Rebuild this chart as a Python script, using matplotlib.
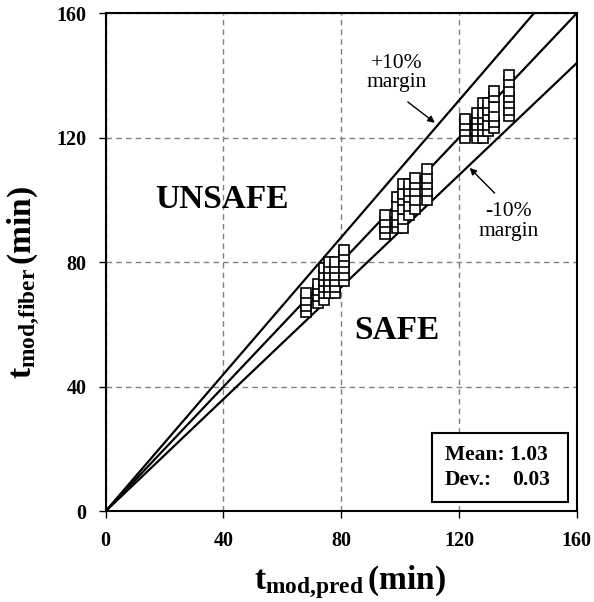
import matplotlib
matplotlib.use('Agg')
from matplotlib import pyplot as plt
from matplotlib.patches import Rectangle

plt.rcParams['font.family'] = 'Liberation Serif'
plt.rcParams['mathtext.fontset'] = 'custom'
plt.rcParams['mathtext.rm'] = 'Liberation Serif:bold'
plt.rcParams['mathtext.bf'] = 'Liberation Serif:bold'
plt.rcParams['mathtext.it'] = 'Liberation Serif:bold'

pred = [68, 68, 68, 68,
        72, 72, 72, 72,
        74, 74, 74, 74, 74, 74,
        76, 76, 76, 76, 76, 76,
        78, 78, 78, 78, 78, 78,
        81, 81, 81, 81, 81, 81,
        95, 95, 95, 95,
        99, 99, 99, 99, 99,
        101, 101, 101, 101, 101, 101,
        103, 103, 103, 103, 103,
        105, 105, 105, 105, 105,
        109, 109, 109, 109, 109,
        122, 122, 122, 122,
        126, 126, 126, 126, 126,
        128, 128, 128, 128, 128, 128,
        130, 130, 130, 130, 130,
        132, 132, 132, 132, 132, 132,
        137, 137, 137, 137, 137, 137, 137]
fiber = [64, 66, 68, 70,
         67, 69, 71, 73,
         68, 70, 72, 74, 76, 78,
         70, 72, 74, 76, 78, 80,
         70, 72, 74, 76, 78, 80,
         74, 76, 78, 80, 82, 84,
         89, 91, 93, 95,
         91, 93, 95, 98, 101,
         91, 94, 97, 100, 102, 105,
         95, 98, 101, 103, 105,
         97, 100, 103, 105, 107,
         100, 103, 105, 107, 110,
         120, 122, 124, 126,
         120, 122, 124, 126, 128,
         120, 122, 124, 126, 128, 131,
         122, 124, 127, 129, 131,
         123, 125, 127, 130, 133, 135,
         127, 129, 131, 133, 135, 138, 140]
line_x = [0, 160]
ratios = [1.0, 1.1, 0.9]
ticks = [0, 40, 80, 120, 160]

fig = plt.figure(figsize=(5.94, 6.02), dpi=100)
ax = fig.add_axes([0.178, 0.151, 0.793, 0.827])

for r in ratios:
    ax.plot(line_x, [v * r for v in line_x], c='black', lw=1.6, zorder=2)
ax.plot(pred, fiber, ls='none', marker='s', ms=6.5, mfc='white', mec='black', mew=1.2, zorder=3)

ax.set_xlim(0, 160)
ax.set_ylim(0, 160)
ax.set_xticks(ticks)
ax.set_yticks(ticks)
ax.grid(True, ls=(0, (4, 3)), c='gray', lw=1)
ax.set_axisbelow(True)
for s in ax.spines.values():
    s.set_linewidth(1.5)
ax.tick_params(axis='both', labelsize=14.5, length=5, width=1, pad=9)
for lab in ax.get_xticklabels() + ax.get_yticklabels():
    lab.set_fontweight('bold')

ax.set_xlabel(r'$\mathbf{t}_{\mathbf{mod{,}pred}}\,$(min)', fontsize=24, fontweight='bold')
ax.set_ylabel(r'$\mathbf{t}_{\mathbf{mod{,}fiber}}\,$(min)', fontsize=24, fontweight='bold')
ax.xaxis.set_label_coords(0.518, -0.105)
ax.yaxis.set_label_coords(-0.136, 0.46)

ax.text(39.5, 100, 'UNSAFE', fontsize=24, fontweight='bold', ha='center', va='center')
ax.text(99, 58, 'SAFE', fontsize=24, fontweight='bold', ha='center', va='center')

ax.text(98.8, 140.8, '+10%\nmargin', fontsize=15.5, ha='center', va='center', linespacing=1.05)
ax.annotate('', xy=(111.8, 124.8), xytext=(102.6, 131.5),
            arrowprops=dict(arrowstyle='-|>', color='black', lw=1, shrinkA=0, shrinkB=0))
ax.text(136.9, 93, '-10%\nmargin', fontsize=15.5, ha='center', va='center', linespacing=1.05)
ax.annotate('', xy=(123.6, 110.3), xytext=(132.1, 102.2),
            arrowprops=dict(arrowstyle='-|>', color='black', lw=1, shrinkA=0, shrinkB=0))

ax.add_patch(Rectangle((0.692, 0.018), 0.289, 0.139, transform=ax.transAxes,
                       fc='white', ec='black', lw=1.5, zorder=5))
ax.text(0.72, 0.112, 'Mean: 1.03', transform=ax.transAxes, fontsize=15.5,
        fontweight='bold', va='center', ha='left', zorder=6)
ax.text(0.72, 0.062, 'Dev.:', transform=ax.transAxes, fontsize=15.5,
        fontweight='bold', va='center', ha='left', zorder=6)
ax.text(0.943, 0.062, '0.03', transform=ax.transAxes, fontsize=15.5,
        fontweight='bold', va='center', ha='right', zorder=6)

plt.savefig('out.png', dpi=100)
